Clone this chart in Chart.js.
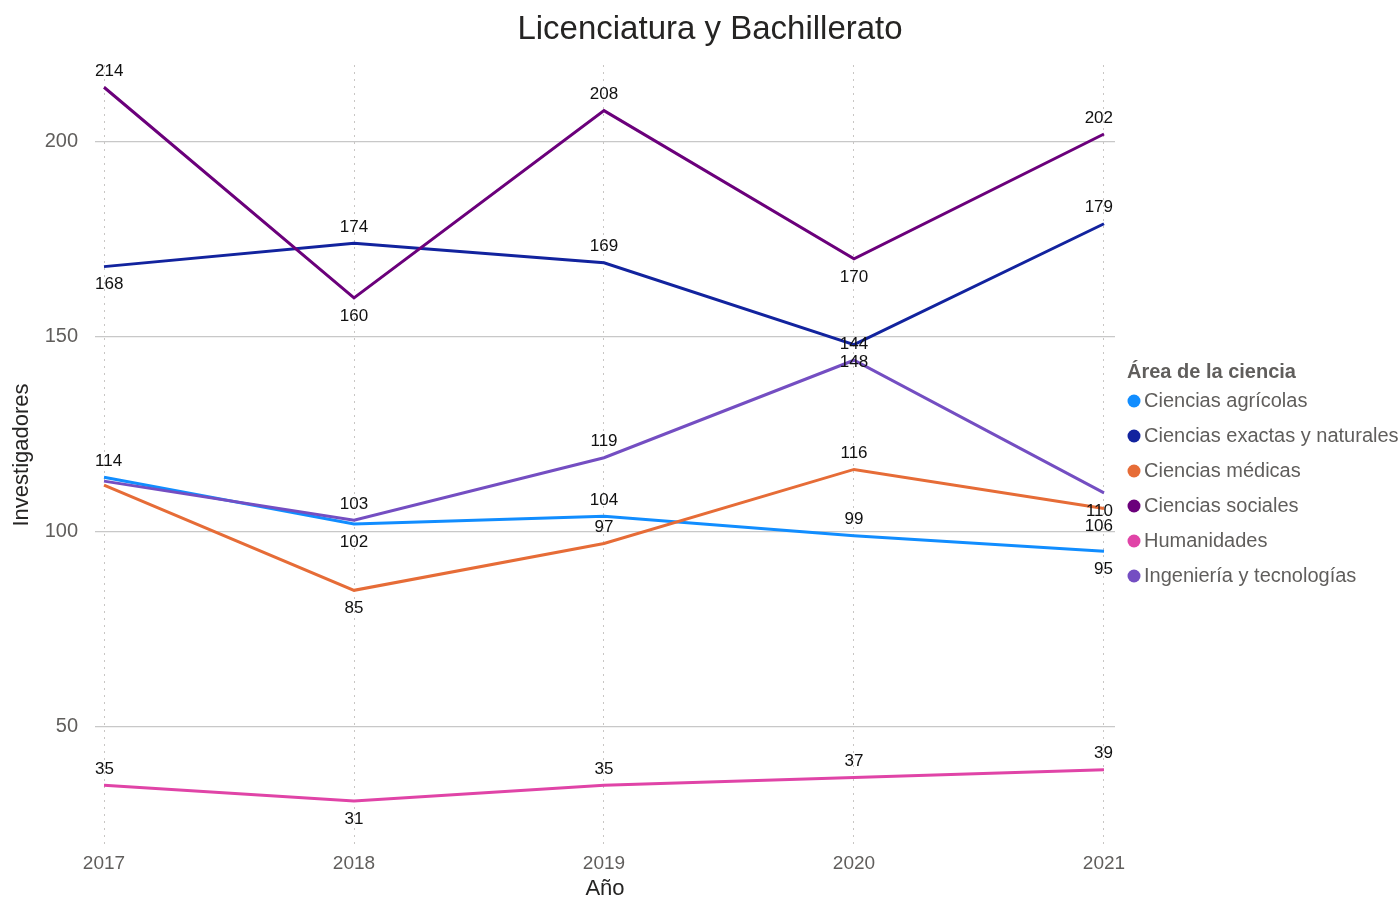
<!DOCTYPE html>
<html>
<head>
<meta charset="utf-8">
<script src="https://cdn.jsdelivr.net/npm/chart.js@4.4.1/dist/chart.umd.min.js"></script>
<style>
  html, body { margin: 0; padding: 0; background: #fff; }
  #wrap { width: 1400px; height: 898px; }
</style>
</head>
<body>
<div id="wrap"><canvas id="chart"></canvas></div>
<script>
var years = [2017, 2018, 2019, 2020, 2021];
var yTicks = [50, 100, 150, 200];

var names = ["Ciencias agrícolas", "Ciencias exactas y naturales", "Ciencias médicas",
  "Ciencias sociales", "Humanidades", "Ingeniería y tecnologías"];
var colors = ["#118DFF", "#12239E", "#E66C37", "#6B007B", "#E044A7", "#744EC2"];

var agricolas = [114, 102, 104, 99, 95];
var exactas = [168, 174, 169, 148, 179];
var medicas = [112, 85, 97, 116, 106];
var sociales = [214, 160, 208, 170, 202];
var humanidades = [35, 31, 35, 37, 39];
var ingenieria = [113, 103, 119, 144, 110];

var values = [agricolas, exactas, medicas, sociales, humanidades, ingenieria];

// where each data label goes: a = above, b = below, null = hidden (overlap)
var labelSide = [
  ["a", "b", "a", "a", "b"],
  ["b", "a", "a", "b", "a"],
  [null, "b", "a", "a", "b"],
  ["a", "b", "a", "b", "a"],
  ["a", "b", "a", "a", "a"],
  [null, "a", "a", "a", "b"]
];

var FONT = "'Liberation Sans', Arial, sans-serif";

var datasets = values.map(function(vals, i) {
  return {
    label: names[i],
    data: vals.map(function(v, j) { return {x: years[j], y: v}; }),
    borderColor: colors[i],
    backgroundColor: colors[i],
    borderWidth: 3,
    pointRadius: 0,
    tension: 0,
    order: values.length - i
  };
});

var extras = {
  id: "extras",
  afterDatasetsDraw: function(chart) {
    var ctx = chart.ctx, area = chart.chartArea;
    ctx.save();
    ctx.font = "17px " + FONT;
    ctx.fillStyle = "#111";
    ctx.textAlign = "center";
    ctx.textBaseline = "middle";
    chart.data.datasets.forEach(function(ds, i) {
      var meta = chart.getDatasetMeta(i);
      meta.data.forEach(function(pt, j) {
        var side = labelSide[i][j];
        if (!side) return;
        var txt = String(values[i][j]);
        var w = ctx.measureText(txt).width;
        var x = Math.min(Math.max(pt.x, area.left + w / 2), area.right - 2 - w / 2);
        var y = side === "a" ? pt.y - 16 : pt.y + 18;
        ctx.fillText(txt, x, y);
      });
    });
    ctx.restore();
  },
  afterDraw: function(chart) {
    var ctx = chart.ctx;
    ctx.save();
    // title
    ctx.font = "33px " + FONT;
    ctx.fillStyle = "#252423";
    ctx.textAlign = "center";
    ctx.textBaseline = "middle";
    ctx.fillText("Licenciatura y Bachillerato", 710, 30);

    // legend
    ctx.textAlign = "left";
    ctx.font = "bold 20px " + FONT;
    ctx.fillStyle = "#605E5C";
    ctx.fillText("Área de la ciencia", 1127, 372);
    ctx.font = "20px " + FONT;
    names.forEach(function(n, i) {
      var cy = 401 + i * 35;
      ctx.beginPath();
      ctx.arc(1134, cy, 6.5, 0, Math.PI * 2);
      ctx.fillStyle = colors[i];
      ctx.fill();
      ctx.fillStyle = "#605E5C";
      ctx.fillText(n, 1144, cy);
    });
    ctx.restore();
  }
};

new Chart(document.getElementById("chart"), {
  type: "line",
  data: {datasets: datasets},
  options: {
    responsive: true,
    maintainAspectRatio: false,
    animation: false,
    layout: {padding: {top: 65, right: 285, bottom: 0, left: 0}},
    plugins: {
      legend: {display: false},
      title: {display: false},
      tooltip: {enabled: false}
    },
    scales: {
      x: {
        type: "linear",
        min: 2016.964,
        max: 2021.044,
        afterBuildTicks: function(scale) {
          scale.ticks = years.map(function(v) { return {value: v}; });
        },
        afterFit: function(scale) { scale.height = 53; },
        ticks: {
          padding: 7,
          color: "#605E5C",
          font: {family: FONT, size: 19},
          callback: function(v) { return String(v); }
        },
        grid: {color: "#C8C6C4", lineWidth: 1, drawTicks: false},
        border: {display: false, dash: [2, 5]},
        title: {
          display: true,
          text: "Año",
          color: "#252423",
          font: {family: FONT, size: 22, lineHeight: 1},
          padding: {top: 0, bottom: -2}
        }
      },
      y: {
        min: 19.7,
        max: 219.7,
        afterBuildTicks: function(scale) {
          scale.ticks = yTicks.map(function(v) { return {value: v}; });
        },
        afterFit: function(scale) { scale.width = 95; },
        ticks: {
          padding: 17,
          color: "#605E5C",
          font: {family: FONT, size: 20}
        },
        grid: {color: "#C8C8C8", lineWidth: 1.2, drawTicks: false},
        border: {display: false},
        title: {
          display: true,
          text: "Investigadores",
          color: "#252423",
          font: {family: FONT, size: 22, lineHeight: 1.2},
          padding: {top: 9, bottom: 0}
        }
      }
    }
  },
  plugins: [extras]
});
</script>
</body>
</html>
